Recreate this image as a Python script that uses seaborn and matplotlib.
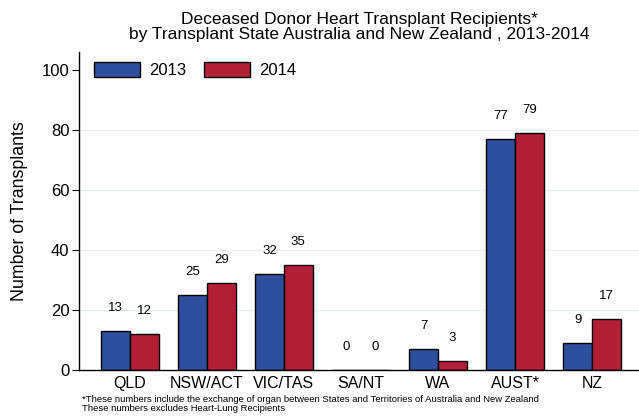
import pandas as pd
import matplotlib
matplotlib.use('Agg')
import matplotlib.pyplot as plt
import seaborn as sns

# Data
states = ['QLD', 'NSW/ACT', 'VIC/TAS', 'SA/NT', 'WA', 'AUST*', 'NZ']
years = ['2013', '2014']
recip_2013 = [13, 25, 32, 0, 7, 77, 9]
recip_2014 = [12, 29, 35, 0, 3, 79, 17]
y_ticks = [0, 20, 40, 60, 80, 100]

df = pd.DataFrame({
    'State': states * 2,
    'Year': ['2013'] * len(states) + ['2014'] * len(states),
    'Count': recip_2013 + recip_2014,
})

sns.set_style('white')
plt.rcParams['font.family'] = ['Liberation Sans', 'DejaVu Sans']
plt.rcParams['text.color'] = 'black'
plt.rcParams['axes.labelcolor'] = 'black'
plt.rcParams['xtick.color'] = 'black'
plt.rcParams['ytick.color'] = 'black'

fig = plt.figure(figsize=(6.39, 4.17), dpi=100)
ax = fig.add_axes([0.1236, 0.1127, 0.8764, 0.7626])

pal = {'2013': '#2E4E9E', '2014': '#B41F38'}
sns.barplot(data=df, x='State', y='Count', hue='Year', hue_order=years,
            palette=pal, width=0.75, gap=0, edgecolor='black', linewidth=1.0,
            saturation=1, ax=ax, legend=False)

for c in ax.containers:
    ax.bar_label(c, fmt='%d', padding=12, fontsize=9.5)

ax.set_ylim(0, 106)
ax.set_xlim(-0.66, 6.61)
ax.set_yticks(y_ticks)
ax.tick_params(axis='y', length=5, width=0.8, direction='out', left=True,
               labelsize=12, pad=2)
ax.tick_params(axis='x', length=0, labelsize=11.5, pad=4)
for yv in y_ticks[1:-1]:
    ax.axhline(yv, color='#E8F0F2', lw=0.9, zorder=0)

for s in ['top', 'right']:
    ax.spines[s].set_visible(False)
ax.spines['left'].set_color('black')
ax.spines['bottom'].set_color('black')
ax.spines['left'].set_linewidth(1.0)
ax.spines['bottom'].set_linewidth(1.0)

ax.set_xlabel('')
ax.set_ylabel('Number of Transplants', fontsize=12.8, labelpad=10)

handles = [plt.Rectangle((0, 0), 1, 1, facecolor=pal[y], edgecolor='black', lw=1.0)
           for y in years]
ax.legend(handles, years, ncol=2, loc='upper left', frameon=False, fontsize=12,
          handlelength=2.75, handleheight=1.0, columnspacing=1.1, handletextpad=0.55,
          bbox_to_anchor=(0.0, 1.015))

fig.text(0.562, 0.935, 'Deceased Donor Heart Transplant Recipients*\n'
         'by Transplant State Australia and New Zealand , 2013-2014',
         ha='center', va='center', fontsize=12.5, linespacing=0.95)

fig.text(0.128, 0.031, '*These numbers include the exchange of organ between States and '
         'Territories of Australia and New Zealand\nThese numbers excludes Heart-Lung Recipients',
         ha='left', va='center', fontsize=6.8, linespacing=0.9)

fig.savefig('out.png', dpi=100)
